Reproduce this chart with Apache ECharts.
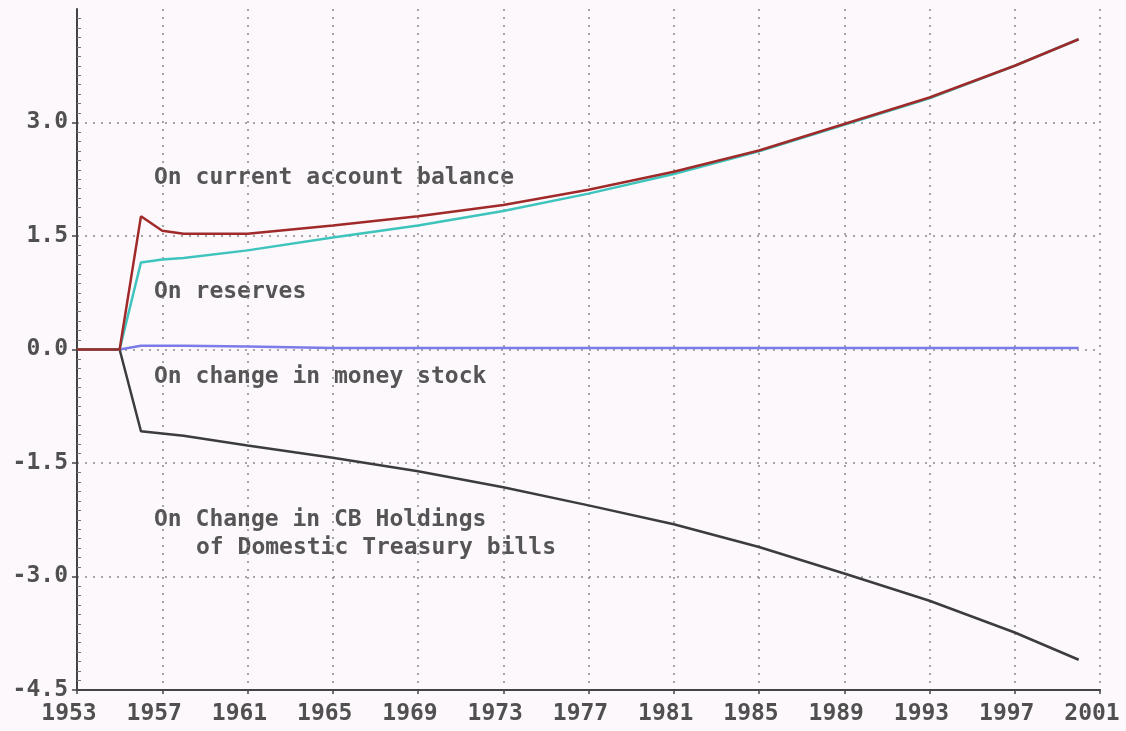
<!DOCTYPE html>
<html>
<head>
<meta charset="utf-8">
<script src="https://cdn.jsdelivr.net/npm/echarts@6/dist/echarts.min.js"></script>
<style>
  html, body { margin: 0; padding: 0; background: #fcf8fc; }
  #chart { width: 1126px; height: 731px; }
</style>
</head>
<body>
<div id="chart"></div>
<script>
var years = [1953, 1955, 1956, 1957, 1958, 1961, 1965, 1969, 1973, 1977, 1981, 1985, 1989, 1993, 1997, 2000];
var currentAccount = [0, 0, 1.76, 1.57, 1.53, 1.53, 1.64, 1.76, 1.91, 2.11, 2.35, 2.63, 2.98, 3.33, 3.75, 4.10];
var reserves = [0, 0, 1.15, 1.19, 1.21, 1.31, 1.48, 1.64, 1.83, 2.06, 2.32, 2.62, 2.97, 3.32, 3.75, 4.10];
var moneyStock = [0, 0, 0.05, 0.05, 0.05, 0.04, 0.02, 0.02, 0.02, 0.02, 0.02, 0.02, 0.02, 0.02, 0.02, 0.02];
var cbHoldings = [0, 0, -1.08, -1.11, -1.14, -1.27, -1.43, -1.61, -1.82, -2.06, -2.31, -2.61, -2.96, -3.32, -3.74, -4.10];

var baseYear = 1953;
var lastYear = 2001;
var yMin = -4.5, yMax = 4.5, yStep = 1.5;

var labels = [
  { text: "On current account balance", x: 154, y: 179 },
  { text: "On reserves", x: 154, y: 293 },
  { text: "On change in money stock", x: 154, y: 378 },
  { text: "On Change in CB Holdings", x: 154, y: 521 },
  { text: "of Domestic Treasury bills", x: 196, y: 549 }
];

var monoFont = "'DejaVu Sans Mono', 'Liberation Mono', monospace";

function pairs(vals) {
  // x axis runs 0..48 so ticks start on a multiple of the interval
  return years.map(function (yr, i) { return [yr - baseYear, vals[i]]; });
}

var myChart = echarts.init(document.getElementById("chart"));

var option = {
  backgroundColor: "#fcf8fc",
  animation: false,
  grid: { left: 77, right: 26, top: 9, bottom: 41, containLabel: false },
  xAxis: {
    type: "value",
    min: 0,
    max: lastYear - baseYear,
    interval: 4,
    axisLine: { show: true, onZero: false, lineStyle: { color: "#444", width: 2 } },
    axisTick: { show: true, length: 4, lineStyle: { color: "#444", width: 1.5 } },
    axisLabel: {
      color: "#505050",
      fontFamily: monoFont,
      fontWeight: "bold",
      fontSize: 23,
      margin: 13,
      padding: [0, 16, 0, 0],
      formatter: function (v) { return String(baseYear + v); }
    },
    splitLine: {
      show: true,
      showMinLine: false,
      lineStyle: { color: "#8a8a8a", type: [2, 6], width: 1.5 }
    }
  },
  yAxis: [
    {
      type: "value",
      min: yMin,
      max: yMax,
      interval: yStep,
      axisLine: { show: true, onZero: false, lineStyle: { color: "#444", width: 2 } },
      axisTick: { show: true, length: 5, lineStyle: { color: "#444", width: 1.5 } },
      axisLabel: {
        color: "#505050",
        fontFamily: monoFont,
        fontWeight: "bold",
        fontSize: 23,
        margin: 9,
        showMaxLabel: false,
        formatter: function (v) { return v.toFixed(1); }
      },
      splitLine: {
        show: true,
        showMinLine: false,
        showMaxLine: false,
        lineStyle: { color: "#8a8a8a", type: [2, 6], width: 1.5 }
      }
    },
    {
      // only the small inner ticks
      type: "value",
      position: "left",
      min: yMin,
      max: yMax,
      interval: yStep,
      axisLine: { show: false },
      axisLabel: { show: false },
      splitLine: { show: false },
      axisTick: { show: false, inside: true },
      minorTick: { show: true, splitNumber: 12, length: 4, lineStyle: { color: "#777", width: 1 } }
    }
  ],
  series: [
    {
      name: "On change in money stock",
      type: "line",
      symbol: "none",
      data: pairs(moneyStock),
      lineStyle: { color: "#7c7ce8", width: 2.5 }
    },
    {
      name: "On Change in CB Holdings",
      type: "line",
      symbol: "none",
      data: pairs(cbHoldings),
      lineStyle: { color: "#3c3c3c", width: 2.5 }
    },
    {
      name: "On reserves",
      type: "line",
      symbol: "none",
      data: pairs(reserves),
      lineStyle: { color: "#3ec4bc", width: 2.5 }
    },
    {
      name: "On current account balance",
      type: "line",
      symbol: "none",
      data: pairs(currentAccount),
      lineStyle: { color: "#a02a2a", width: 2.5 }
    }
  ],
  graphic: labels.map(function (l) {
    return {
      type: "text",
      left: l.x,
      top: l.y - 12,
      style: {
        text: l.text,
        fill: "#555555",
        font: "bold 23px " + monoFont
      }
    };
  })
};

myChart.setOption(option);
</script>
</body>
</html>
